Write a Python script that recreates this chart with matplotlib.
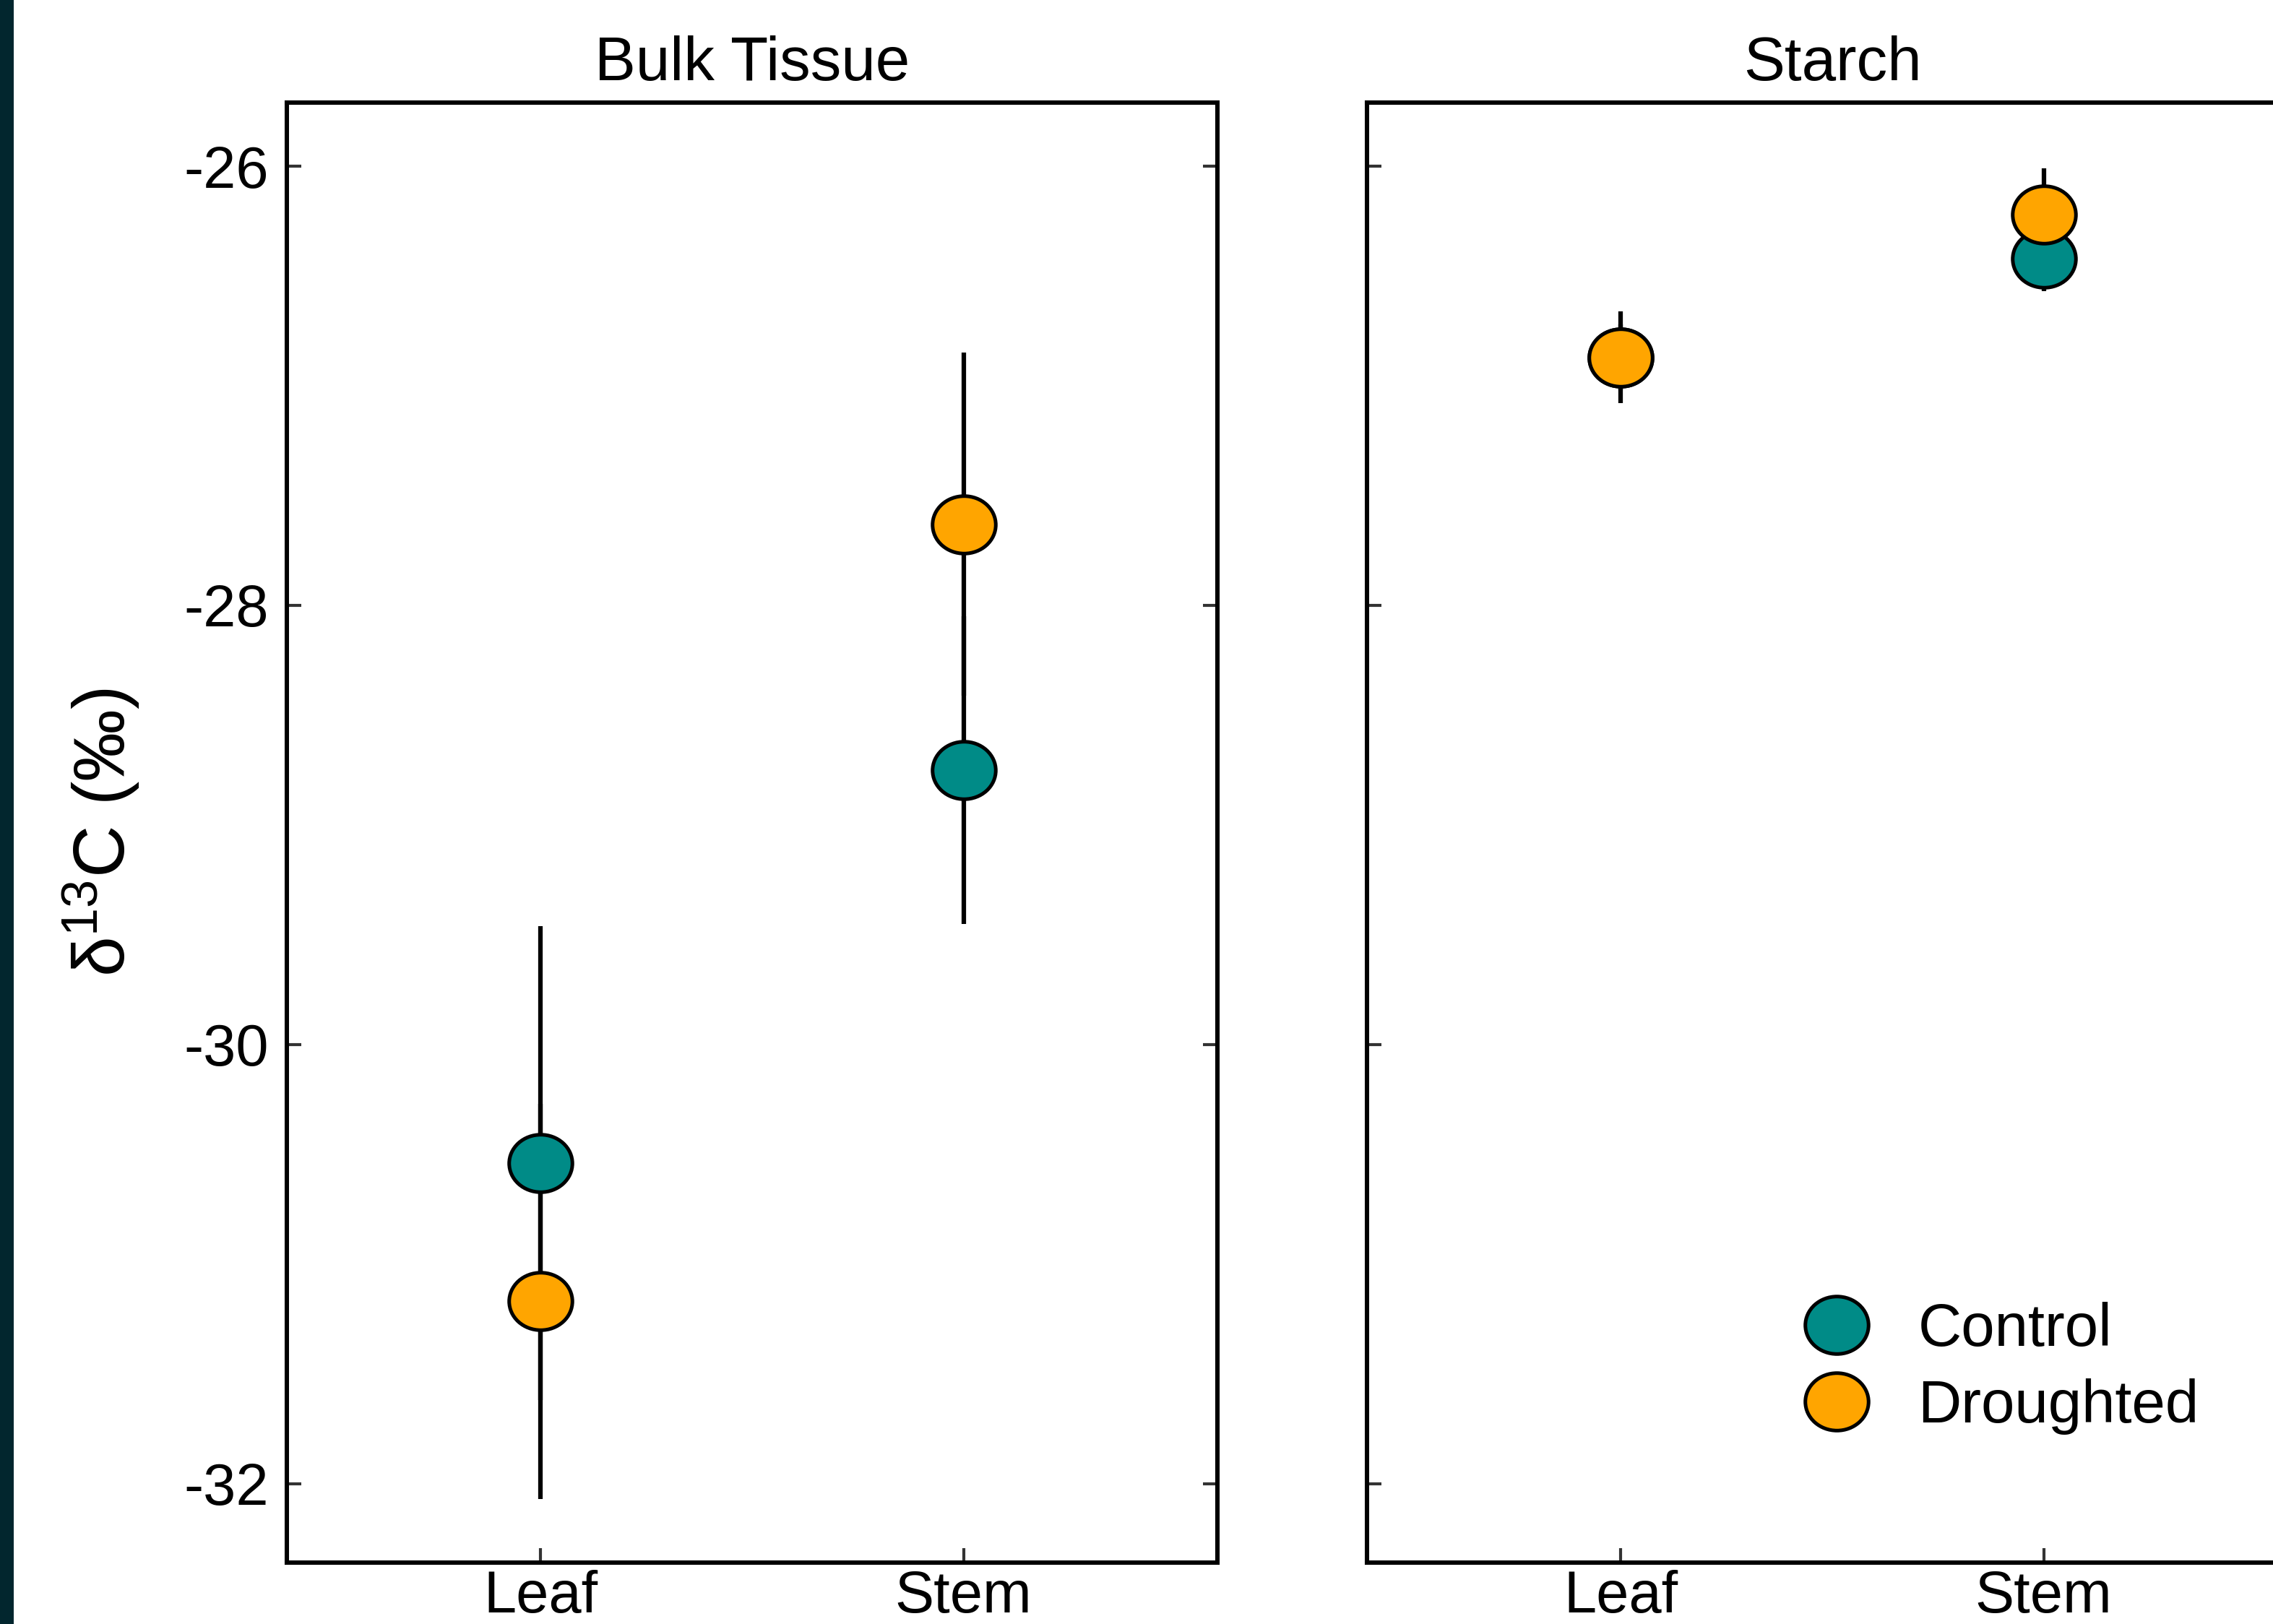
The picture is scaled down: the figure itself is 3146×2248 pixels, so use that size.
import matplotlib
matplotlib.use("Agg")
import matplotlib.pyplot as plt
from matplotlib.path import Path
from matplotlib.transforms import Affine2D
from matplotlib.patches import Rectangle
from matplotlib.lines import Line2D

plt.rcParams['font.family'] = ['Liberation Sans', 'DejaVu Sans']
plt.rcParams['mathtext.fontset'] = 'custom'
plt.rcParams['mathtext.rm'] = 'Liberation Sans'
plt.rcParams['mathtext.it'] = 'Liberation Sans:italic'
plt.rcParams['axes.unicode_minus'] = False

# data
categories = ["Leaf", "Stem"]
panels = ["Bulk Tissue", "Starch"]
groups = ["Control", "Droughted"]
group_colors = ["#008B87", "#FFA500"]

bulk_control = [-30.54, -28.75]
bulk_control_err = [1.08, 0.70]
bulk_drought = [-31.17, -27.63]
bulk_drought_err = [0.90, 0.78]

starch_control = [-26.87, -26.42]
starch_control_err = [0.15, 0.15]
starch_drought = [-26.87, -26.22]
starch_drought_err = [0.21, 0.21]

yticks = [-26, -28, -30, -32]

panel_data = [
    [(bulk_control, bulk_control_err), (bulk_drought, bulk_drought_err)],
    [(starch_control, starch_control_err), (starch_drought, starch_drought_err)],
]

# slightly wide ellipse marker (the original looks stretched horizontally)
ellipse = Path.unit_circle().transformed(Affine2D().scale(1.1, 1.0))

W, H, DPI = 3146, 2248, 300
fig = plt.figure(figsize=(W / DPI, H / DPI), dpi=DPI)
fig.patches.append(Rectangle((0, 0), 19 / W, 1, transform=fig.transFigure,
                             facecolor="#02262E", edgecolor="none", zorder=0))

ax_w = 1288 / W
ax_b = 1 - 2163 / H
ax_h = (2163 - 142) / H
lefts = [397 / W, 1892 / W]

axes = []
for i, name in enumerate(panels):
    ax = fig.add_axes([lefts[i], ax_b, ax_w, ax_h])
    x = list(range(len(categories)))
    # error bars first so every marker sits on top of them
    for (vals, errs), col in zip(panel_data[i], group_colors):
        ax.errorbar(x, vals, yerr=errs, fmt="none", ecolor="black",
                    elinewidth=1.5, capsize=0, zorder=2)
    for (vals, errs), col in zip(panel_data[i], group_colors):
        ax.plot(x, vals, linestyle="none", marker=ellipse, markersize=21,
                markerfacecolor=col, markeredgecolor="black",
                markeredgewidth=1.2, zorder=3)
    ax.set_xlim(-0.6, 1.6)
    ax.set_ylim(-32.36, -25.71)
    ax.set_xticks(x)
    ax.set_xticklabels(categories)
    ax.set_yticks(yticks)
    ax.set_yticklabels([str(t) for t in yticks])
    ax.tick_params(axis="both", direction="in", length=4.8, width=1.0,
                   color="#333333", labelsize=19.5, labelcolor="black")
    ax.tick_params(axis="x", pad=2.5)
    ax.tick_params(axis="y", pad=6)
    if i == 0:
        ax.tick_params(axis="y", right=True, left=True)
    else:
        ax.tick_params(axis="y", labelleft=False, left=True)
    for sp in ax.spines.values():
        sp.set_linewidth(1.45)
        sp.set_color("black")
    if i == 1:
        ax.spines["right"].set_visible(False)
    ax.set_title(name, fontsize=20.5, pad=7.5)
    axes.append(ax)

axes[0].set_ylabel(r"δ$^{13}$C (‰)", fontsize=24)
axes[0].yaxis.set_label_coords(-0.155, 0.5)

handles = [Line2D([], [], linestyle="none", marker=ellipse, markersize=21,
                  markerfacecolor=c, markeredgecolor="black", markeredgewidth=1.2)
           for c in group_colors]
fig.legend(handles, groups, loc="upper left",
           bbox_to_anchor=(2492 / W, 1 - 1802 / H), bbox_transform=fig.transFigure,
           frameon=False, fontsize=20, borderpad=0, borderaxespad=0,
           handlelength=1.2, handletextpad=0.75, labelspacing=0.34)

fig.savefig("out.png", dpi=DPI)
